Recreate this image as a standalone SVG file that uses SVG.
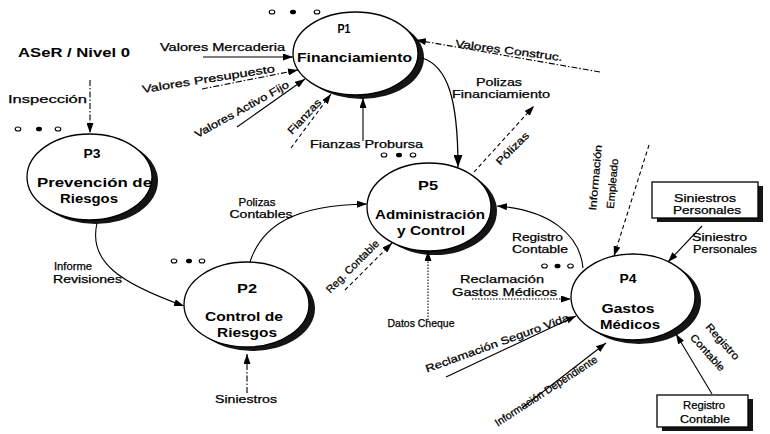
<svg xmlns="http://www.w3.org/2000/svg" width="770" height="434" viewBox="0 0 770 434">
<style>
.bg{fill:#fff}
.body{fill:#fff;stroke:#000;stroke-width:1.3}
.shadow{fill:#151515}
.dotO{fill:#fff;stroke:#000;stroke-width:1.1}
.dotF{fill:#000}
.t{font-family:"Liberation Sans",Arial,Helvetica,sans-serif;fill:#000;stroke:#000;stroke-width:0.25}
.nt{font-size:12.5px;text-anchor:middle;font-weight:bold;stroke-width:0}
.lt{font-size:10.5px}
.mid{text-anchor:middle}
.title{font-size:13px;font-weight:bold;stroke-width:0}
.c{fill:none;stroke:#000;stroke-width:1.1}
.dash{stroke-dasharray:4 3}
.dot{stroke-dasharray:1.5 1.5}
.dd{stroke-dasharray:6 2 1.5 2}
</style>
<defs>
<marker id="ah" viewBox="0 0 10 7" refX="10" refY="3.5" markerWidth="10" markerHeight="7" markerUnits="userSpaceOnUse" orient="auto">
<path d="M0,0 L10,3.5 L0,7 z" fill="#000"/>
</marker>
<marker id="ahL" viewBox="0 0 12 9" refX="12" refY="4.5" markerWidth="12" markerHeight="9" markerUnits="userSpaceOnUse" orient="auto">
<path d="M0,0 L12,4.5 L0,9 z" fill="#000"/>
</marker>
</defs>
<rect class="bg" x="0" y="0" width="770" height="434"/>

<text id="title" class="t title" x="18" y="57" textLength="112" lengthAdjust="spacingAndGlyphs">ASeR / Nivel 0</text>

<g id="P1">
<ellipse class="shadow" cx="361.5" cy="57.5" rx="62.5" ry="41.5"/>
<ellipse class="body" cx="355.5" cy="53.5" rx="62.5" ry="41.5"/>
<ellipse class="dotO" cx="272" cy="12" rx="2.8" ry="2"/><ellipse class="dotF" cx="293" cy="12" rx="3" ry="2.3"/><ellipse class="dotO" cx="317" cy="12" rx="2.8" ry="2"/>
<text class="t nt" x="344" y="33" textLength="13" lengthAdjust="spacingAndGlyphs">P1</text>
<text class="t nt" x="354.5" y="62" textLength="115" lengthAdjust="spacingAndGlyphs">Financiamiento</text>
</g>

<g id="P3">
<ellipse class="shadow" cx="95.5" cy="181" rx="62.5" ry="43"/>
<ellipse class="body" cx="89.5" cy="177" rx="62.5" ry="43"/>
<ellipse class="dotO" cx="18" cy="129" rx="2.8" ry="2"/><ellipse class="dotF" cx="39" cy="129" rx="3" ry="2.3"/><ellipse class="dotO" cx="58" cy="129" rx="2.8" ry="2"/>
<text class="t nt" x="92" y="158" textLength="17" lengthAdjust="spacingAndGlyphs">P3</text>
<text class="t nt" x="94.5" y="187" textLength="115" lengthAdjust="spacingAndGlyphs">Prevención de</text>
<text class="t nt" x="89" y="203" textLength="58" lengthAdjust="spacingAndGlyphs">Riesgos</text>
</g>

<g id="P2">
<ellipse class="shadow" cx="252.5" cy="308.5" rx="62.5" ry="42.5"/>
<ellipse class="body" cx="246.5" cy="304.5" rx="62.5" ry="42.5"/>
<ellipse class="dotO" cx="174" cy="261" rx="2.8" ry="2"/><ellipse class="dotF" cx="189" cy="261" rx="3" ry="2.3"/><ellipse class="dotO" cx="202" cy="261" rx="2.8" ry="2"/>
<text class="t nt" x="247" y="293" textLength="20" lengthAdjust="spacingAndGlyphs">P2</text>
<text class="t nt" x="244" y="321" textLength="78" lengthAdjust="spacingAndGlyphs">Control de</text>
<text class="t nt" x="247" y="337" textLength="60" lengthAdjust="spacingAndGlyphs">Riesgos</text>
</g>

<g id="P5">
<ellipse class="shadow" cx="435" cy="211" rx="62" ry="44"/>
<ellipse class="body" cx="429" cy="207" rx="62" ry="44"/>
<ellipse class="dotO" cx="384" cy="155" rx="2.8" ry="2"/><ellipse class="dotF" cx="399" cy="155" rx="3" ry="2.3"/><ellipse class="dotO" cx="413" cy="155" rx="2.8" ry="2"/>
<text class="t nt" x="428" y="190" textLength="20" lengthAdjust="spacingAndGlyphs">P5</text>
<text class="t nt" x="430" y="219" textLength="110" lengthAdjust="spacingAndGlyphs">Administración</text>
<text class="t nt" x="431" y="235" textLength="68" lengthAdjust="spacingAndGlyphs">y Control</text>
</g>

<g id="P4">
<ellipse class="shadow" cx="639" cy="301" rx="62" ry="43"/>
<ellipse class="body" cx="633" cy="297" rx="62" ry="43"/>
<ellipse class="dotO" cx="544.5" cy="266" rx="2.8" ry="2"/><ellipse class="dotF" cx="557.5" cy="266" rx="3" ry="2.3"/><ellipse class="dotO" cx="570.5" cy="266" rx="2.8" ry="2"/>
<text class="t nt" x="628" y="283" textLength="17" lengthAdjust="spacingAndGlyphs">P4</text>
<text class="t nt" x="628" y="313" textLength="53" lengthAdjust="spacingAndGlyphs">Gastos</text>
<text class="t nt" x="630" y="329" textLength="60" lengthAdjust="spacingAndGlyphs">Médicos</text>
</g>

<g id="siniestros-personales">
<rect class="shadow" x="657" y="186" width="106" height="36"/>
<rect class="body" x="652" y="182" width="106" height="36"/>
<text class="t lt mid" x="705" y="202" textLength="62" lengthAdjust="spacingAndGlyphs">Siniestros</text>
<text class="t lt mid" x="707" y="214" textLength="68" lengthAdjust="spacingAndGlyphs">Personales</text>
</g>

<g id="registro-contable">
<rect class="shadow" x="662" y="399" width="91" height="32"/>
<rect class="body" x="657" y="395" width="91" height="32"/>
<text class="t lt mid" x="704" y="409" textLength="42" lengthAdjust="spacingAndGlyphs">Registro</text>
<text class="t lt mid" x="705" y="423" textLength="50" lengthAdjust="spacingAndGlyphs">Contable</text>
</g>

<g id="connectors">
<g id="c-inspeccion">
<path class="c dd" d="M90 80 L90 133" marker-end="url(#ah)"/>
<text class="t lt" x="8" y="103" textLength="79" lengthAdjust="spacingAndGlyphs">Inspección</text>
</g>
<g id="c-mercaderia">
<path class="c" d="M203 57 L293 57" marker-end="url(#ah)"/>
<text class="t lt" x="160" y="51" textLength="125" lengthAdjust="spacingAndGlyphs">Valores Mercaderia</text>
</g>
<g id="c-presupuesto">
<path class="c dd" d="M202 89 L298 70" marker-end="url(#ah)"/>
<text class="t lt mid" transform="translate(209 82.5) rotate(-9)" x="0" y="0" textLength="134" lengthAdjust="spacingAndGlyphs">Valores Presupuesto</text>
</g>
<g id="c-activo">
<path class="c" d="M237 127 L305 79" marker-end="url(#ah)"/>
<text class="t lt mid" transform="translate(243.5 112.5) rotate(-29)" x="0" y="0" textLength="106" lengthAdjust="spacingAndGlyphs">Valores Activo Fijo</text>
</g>
<g id="c-fianzas">
<path class="c dash" d="M291 148 L331 94" marker-end="url(#ah)"/>
<text class="t lt mid" transform="translate(307 119) rotate(-47)" x="0" y="0" textLength="44" lengthAdjust="spacingAndGlyphs">Fianzas</text>
</g>
<g id="c-probursa">
<path class="c" d="M363 141 L363 98" marker-end="url(#ah)"/>
<text class="t lt" x="310" y="148" textLength="113" lengthAdjust="spacingAndGlyphs">Fianzas Probursa</text>
</g>
<g id="c-construc">
<path class="c dd" d="M600 72 L416 40" marker-end="url(#ah)"/>
<text class="t lt mid" transform="translate(508.5 54) rotate(7.5)" x="0" y="0" textLength="108" lengthAdjust="spacingAndGlyphs">Valores Construc.</text>
</g>
<g id="c-polizas-fin">
<path class="c" style="stroke-width:1.3" d="M422 58 C448 66 458 100 458 167" marker-end="url(#ahL)"/>
<text class="t lt mid" x="499" y="86" textLength="46" lengthAdjust="spacingAndGlyphs">Polizas</text>
<text class="t lt mid" x="501" y="98" textLength="98" lengthAdjust="spacingAndGlyphs">Financiamiento</text>
</g>
<g id="c-polizas">
<path class="c dash" d="M474 172 L534 106" marker-end="url(#ah)"/>
<text class="t lt mid" transform="translate(515 151) rotate(-45)" x="0" y="0" textLength="42" lengthAdjust="spacingAndGlyphs">Pólizas</text>
</g>
<g id="c-informe">
<path class="c" d="M97 223 C88 262 120 283 184 306" marker-end="url(#ah)"/>
<text class="t lt" x="54" y="270" textLength="38" lengthAdjust="spacingAndGlyphs">Informe</text>
<text class="t lt" x="53" y="283" textLength="69" lengthAdjust="spacingAndGlyphs">Revisiones</text>
</g>
<g id="c-polizas-cont">
<path class="c" d="M250 262 C262 225 295 205 367 204" marker-end="url(#ah)"/>
<text class="t lt mid" x="257" y="206" textLength="37" lengthAdjust="spacingAndGlyphs">Polizas</text>
<text class="t lt mid" x="261" y="218" textLength="63" lengthAdjust="spacingAndGlyphs">Contables</text>
</g>
<g id="c-reg-contable">
<path class="c dash" d="M345 290 L392 243" marker-end="url(#ah)"/>
<text class="t lt mid" transform="translate(355 269) rotate(-45)" x="0" y="0" textLength="70" lengthAdjust="spacingAndGlyphs">Reg. Contable</text>
</g>
<g id="c-datos-cheque">
<path class="c dot" d="M428 320 L428 251" marker-end="url(#ah)"/>
<text class="t lt mid" x="421" y="327" textLength="67" lengthAdjust="spacingAndGlyphs">Datos Cheque</text>
</g>
<g id="c-registro-p5">
<path class="c" d="M583 268 C580 235 550 210 497 206" marker-end="url(#ah)"/>
<text class="t lt mid" x="537.5" y="241" textLength="51" lengthAdjust="spacingAndGlyphs">Registro</text>
<text class="t lt mid" x="540" y="253" textLength="56" lengthAdjust="spacingAndGlyphs">Contable</text>
</g>
<g id="c-gastos-medicos">
<path class="c dot" d="M472 299 L571 299" marker-end="url(#ah)"/>
<text class="t lt mid" x="502" y="283" textLength="84" lengthAdjust="spacingAndGlyphs">Reclamación</text>
<text class="t lt mid" x="504.5" y="296" textLength="105" lengthAdjust="spacingAndGlyphs">Gastos Médicos</text>
</g>
<g id="c-seguro-vida">
<path class="c" d="M446 377 L576 316" marker-end="url(#ah)"/>
<text class="t lt mid" transform="translate(498.5 346.5) rotate(-20)" x="0" y="0" textLength="152" lengthAdjust="spacingAndGlyphs">Reclamación Seguro Vida</text>
</g>
<g id="c-dependiente">
<path class="c" d="M522 408 L606 343" marker-end="url(#ah)"/>
<text class="t lt mid" transform="translate(548 394) rotate(-33)" x="0" y="0" textLength="120" lengthAdjust="spacingAndGlyphs">Información Dependiente</text>
</g>
<g id="c-empleado">
<path class="c dash" d="M649 145 L614 256" marker-end="url(#ah)"/>
<text class="t lt mid" transform="translate(599 178) rotate(-85)" x="0" y="0" textLength="66" lengthAdjust="spacingAndGlyphs">Información</text>
<text class="t lt mid" transform="translate(616 184) rotate(-85)" x="0" y="0" textLength="50" lengthAdjust="spacingAndGlyphs">Empleado</text>
</g>
<g id="c-siniestro-personales">
<path class="c" d="M702 226 L668 262" marker-end="url(#ah)"/>
<text class="t lt" x="692" y="241" textLength="55" lengthAdjust="spacingAndGlyphs">Siniestro</text>
<text class="t lt" x="693" y="253" textLength="64" lengthAdjust="spacingAndGlyphs">Personales</text>
</g>
<g id="c-registro-p4">
<path class="c" d="M712 394 L676 334" marker-end="url(#ah)"/>
<text class="t lt mid" transform="translate(720 344) rotate(48)" x="0" y="0" textLength="45" lengthAdjust="spacingAndGlyphs">Registro</text>
<text class="t lt mid" transform="translate(705 355) rotate(48)" x="0" y="0" textLength="46" lengthAdjust="spacingAndGlyphs">Contable</text>
</g>
<g id="c-siniestros">
<path class="c dd" d="M247 393 L247 354" marker-end="url(#ah)"/>
<text class="t lt mid" x="246" y="403" textLength="62" lengthAdjust="spacingAndGlyphs">Siniestros</text>
</g>
</g>
</svg>
